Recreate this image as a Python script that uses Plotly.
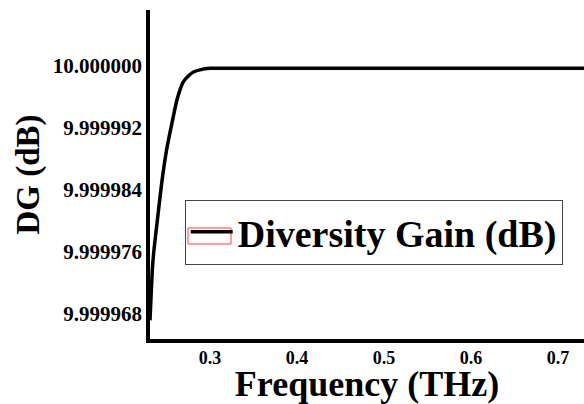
import plotly.graph_objects as go

# Diversity gain versus frequency
freq_thz = [0.2310, 0.2339, 0.2356, 0.2399, 0.2445, 0.2502, 0.2563, 0.2621,
            0.2690, 0.2750, 0.2805, 0.2885, 0.300, 0.350, 0.400, 0.500,
            0.600, 0.700, 0.750]
dg_db = [9.9999672, 9.9999741, 9.9999763, 9.9999805, 9.9999849, 9.9999892,
         9.9999926, 9.9999956, 9.9999978, 9.9999986, 9.9999991, 9.9999994,
         9.9999996, 9.9999996, 9.9999996, 9.9999996, 9.9999996, 9.9999996,
         9.9999996]

y_ticks = [9.999968, 9.999976, 9.999984, 9.999992, 10.000000]
y_tick_text = ["9.999968", "9.999976", "9.999984", "9.999992", "10.000000"]
x_ticks = [0.3, 0.4, 0.5, 0.6, 0.7]
x_tick_text = ["0.3", "0.4", "0.5", "0.6", "0.7"]

serif = "Liberation Serif"

fig = go.Figure()
fig.add_trace(go.Scatter(
    x=freq_thz, y=dg_db, mode="lines",
    line=dict(color="black", width=3.5, shape="spline", smoothing=0.5),
    name="<b>Diversity Gain (dB)</b>",
))

fig.update_layout(
    width=584, height=404,
    margin=dict(l=150, r=0, t=10, b=65),
    paper_bgcolor="white", plot_bgcolor="white",
    font=dict(family=serif, color="black"),
    showlegend=True,
    legend=dict(
        x=0.08, y=0.325, xanchor="left", yanchor="middle",
        bgcolor="rgba(0,0,0,0)", bordercolor="#444", borderwidth=1,
        font=dict(family=serif, size=38, color="black"),
        itemwidth=42, tracegroupgap=0,
    ),
    xaxis=dict(
        range=[0.231, 0.73],
        tickvals=x_ticks, ticktext=["<b>%s</b>" % t for t in x_tick_text],
        tickfont=dict(family=serif, size=18), ticks="",
        showgrid=False, zeroline=False,
        showline=True, linecolor="black", linewidth=3.5,
        title=dict(text="<b>Frequency (THz)</b>",
                   font=dict(family=serif, size=36), standoff=9),
    ),
    yaxis=dict(
        range=[9.9999648, 10.0000071],
        tickvals=y_ticks, ticktext=["<b>%s</b>" % t for t in y_tick_text],
        tickfont=dict(family=serif, size=21), ticks="",
        showgrid=False, zeroline=False,
        showline=True, linecolor="black", linewidth=3.5,
        title=dict(text="<b>DG (dB)</b>",
                   font=dict(family=serif, size=33), standoff=4),
    ),
)

# red outline drawn around the legend sample line
fig.add_shape(type="rect", xref="paper", yref="paper",
              x0=(188 - 150) / 434, x1=(231 - 150) / 434,
              y0=(339 - 244) / 329, y1=(339 - 228) / 329,
              line=dict(color="#ff4040", width=1), fillcolor="rgba(0,0,0,0)")

fig.write_html("out.html")
